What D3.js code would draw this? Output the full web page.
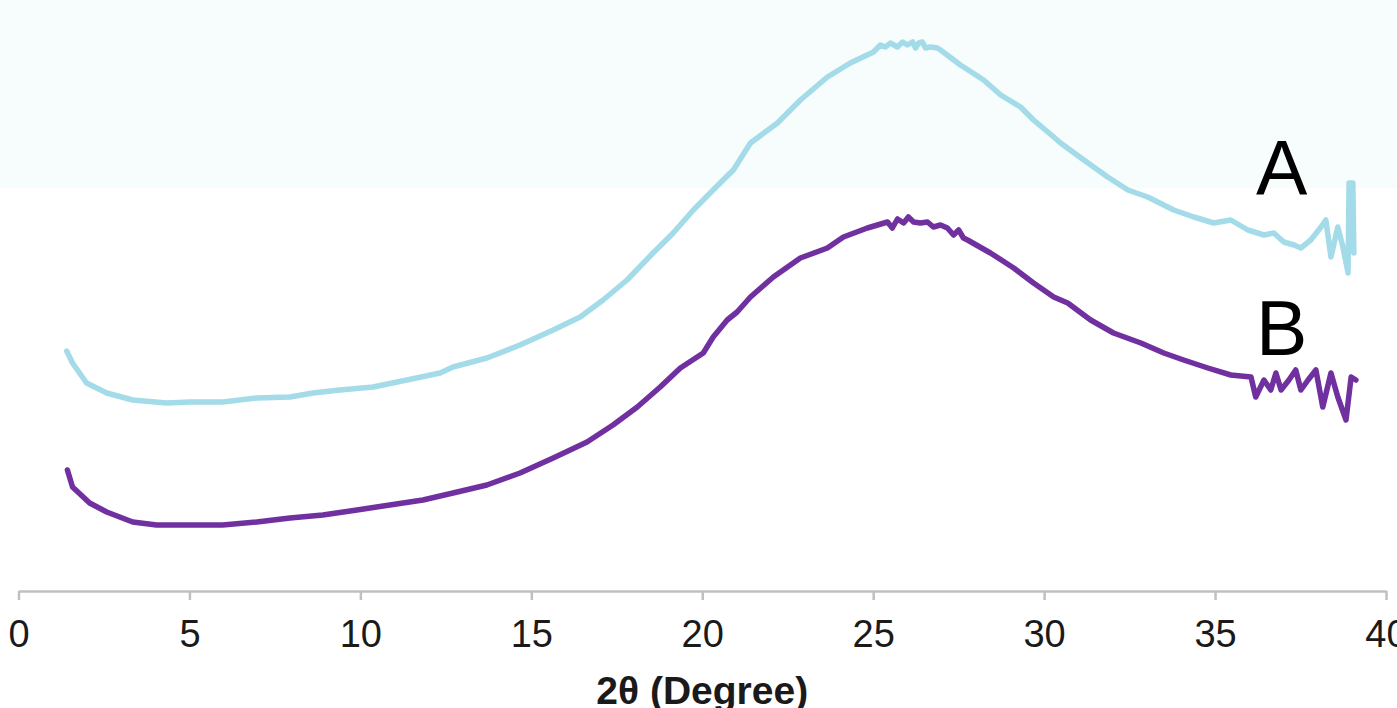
<!DOCTYPE html>
<html>
<head>
<meta charset="utf-8">
<script src="https://cdn.jsdelivr.net/npm/d3@7"></script>
<style>
  html, body { margin: 0; padding: 0; background: #fff; }
  svg { display: block; }
</style>
</head>
<body>
<div id="main-chart"></div>
<script>
// 2theta (degree) and intensity (a.u.)
const twoThetaA = [
  1.41, 1.58, 1.99, 2.58, 3.34, 4.33, 5.01, 5.97, 6.97, 7.94, 8.61, 9.4, 10.37,
  11.36, 12.33, 12.71, 13.7, 14.67, 15.64, 16.43, 17.1, 17.8, 18.56, 19.15,
  19.74, 20.23, 20.61, 20.91, 21.41, 22.2, 22.87, 23.66, 24.33, 25.01, 25.21,
  25.36, 25.5, 25.71, 25.86, 26.0, 26.15, 26.24, 26.33, 26.44, 26.53, 26.68,
  26.88, 26.97, 27.55, 28.23, 28.73, 29.31, 29.69, 30.28, 30.48, 31.16, 31.86,
  32.45, 33.03, 33.79, 34.38, 34.96, 35.46, 35.96, 36.43, 36.72, 37.01, 37.31,
  37.51, 37.8, 38.1, 38.24, 38.39, 38.59, 38.74, 38.89, 38.92, 39.03, 39.06,
];
const intensityA = [
  240, 228, 208, 198, 191, 188, 189, 189, 193, 194, 198, 201, 204,
  211, 218, 224, 233, 246, 261, 274, 291, 311, 338, 358,
  381, 398, 411, 421, 448, 468, 491, 514, 528, 539, 546,
  544, 548, 544, 549, 546, 549, 543, 548, 549, 543, 544,
  543, 541, 526, 511, 496, 484, 471, 454, 448, 431, 414,
  401, 394, 381, 374, 368, 371, 361, 356, 358, 349, 346,
  343, 351, 364, 371, 334, 364, 344, 318, 408, 408, 338,
];

const twoThetaB = [
  1.43, 1.58, 2.08, 2.58, 3.34, 4.04, 5.01, 5.97, 6.97, 7.94, 8.9, 9.9, 10.86,
  11.83, 12.71, 13.7, 14.67, 15.64, 16.63, 17.39, 18.1, 18.77, 19.36, 20.03,
  20.32, 20.73, 21.02, 21.41, 22.08, 22.87, 23.66, 24.13, 24.83, 25.42, 25.56,
  25.71, 25.89, 26.03, 26.18, 26.38, 26.59, 26.76, 26.97, 27.17, 27.35, 27.5,
  27.64, 27.76, 28.43, 29.11, 29.69, 30.28, 30.69, 31.36, 32.03, 32.83, 33.5,
  34.08, 34.79, 35.46, 36.05, 36.19, 36.43, 36.63, 36.78, 36.93, 37.16, 37.36,
  37.51, 37.72, 37.95, 38.15, 38.39, 38.59, 38.83, 38.98, 39.12,
];
const intensityB = [
  121, 104, 88, 79, 69, 66, 66, 66, 69, 73, 76, 81, 86,
  91, 98, 106, 118, 133, 149, 166, 184, 204, 223, 238,
  254, 271, 279, 294, 314, 333, 343, 354, 363, 369, 363,
  372, 368, 374, 369, 368, 369, 364, 366, 363, 356, 361,
  353, 351, 338, 323, 308, 294, 288, 271, 258, 248, 238,
  231, 223, 216, 214, 194, 211, 201, 218, 201, 211, 221,
  201, 211, 221, 184, 218, 194, 171, 214, 211,
];

const seriesNames = ["A", "B"];
const seriesColors = ["#a4dbe8", "#7030a0"];
const xTicks = [0, 5, 10, 15, 20, 25, 30, 35, 40];
const xTitle = "2θ (Degree)";

const width = 1397;
const height = 708;
const axisY = 591;

const svg = d3
  .select("#main-chart")
  .append("svg")
  .attr("width", width)
  .attr("height", height);

// pale band at the top of the picture
svg
  .append("rect")
  .attr("x", 0)
  .attr("y", 0)
  .attr("width", width)
  .attr("height", 188)
  .attr("fill", "#f7fcfd");

const xScale = d3.scaleLinear().domain([0, 40]).range([18.5, 1386]);
const yScale = d3.scaleLinear().domain([0, 591]).range([axisY, 0]);

const series = [
  { name: seriesNames[0], x: twoThetaA, y: intensityA, color: seriesColors[0] },
  { name: seriesNames[1], x: twoThetaB, y: intensityB, color: seriesColors[1] },
];

const line = d3
  .line()
  .x((d) => xScale(d[0]))
  .y((d) => yScale(d[1]));

svg
  .selectAll(".trace")
  .data(series)
  .join("path")
  .attr("class", "trace")
  .attr("fill", "none")
  .attr("stroke", (d) => d.color)
  .attr("stroke-width", 5.5)
  .attr("stroke-linejoin", "round")
  .attr("stroke-linecap", "round")
  .attr("d", (d) => line(d.x.map((v, i) => [v, d.y[i]])));

// series labels at the right end of each trace
const labelPos = [
  { t: 36.2, v: 396 },
  { t: 36.2, v: 236 },
];
svg
  .selectAll(".series-label")
  .data(series)
  .join("text")
  .attr("class", "series-label")
  .attr("x", (d, i) => xScale(labelPos[i].t))
  .attr("y", (d, i) => yScale(labelPos[i].v))
  .attr("font-family", "'Liberation Sans', Arial, sans-serif")
  .attr("font-size", 77)
  .attr("fill", "#000")
  .text((d) => d.name);

const xAxis = d3
  .axisBottom(xScale)
  .tickValues(xTicks)
  .tickSize(9)
  .tickSizeOuter(0)
  .tickPadding(20)
  .tickFormat(d3.format("d"));

const axisG = svg
  .append("g")
  .attr("transform", `translate(0, ${axisY})`)
  .call(xAxis);

axisG.select(".domain").attr("stroke", "#c0c0c0").attr("stroke-width", 2.5);
axisG.selectAll(".tick line").attr("stroke", "#c0c0c0").attr("stroke-width", 2.5);
axisG
  .selectAll(".tick text")
  .attr("font-family", "'Liberation Sans', Arial, sans-serif")
  .attr("font-size", 38)
  .attr("fill", "#1a1a1a");

svg
  .append("text")
  .attr("x", xScale(20))
  .attr("y", 704)
  .attr("text-anchor", "middle")
  .attr("font-family", "'Liberation Sans', Arial, sans-serif")
  .attr("font-weight", "bold")
  .attr("font-size", 39)
  .attr("fill", "#1a1a1a")
  .text(xTitle);
</script>
</body>
</html>
